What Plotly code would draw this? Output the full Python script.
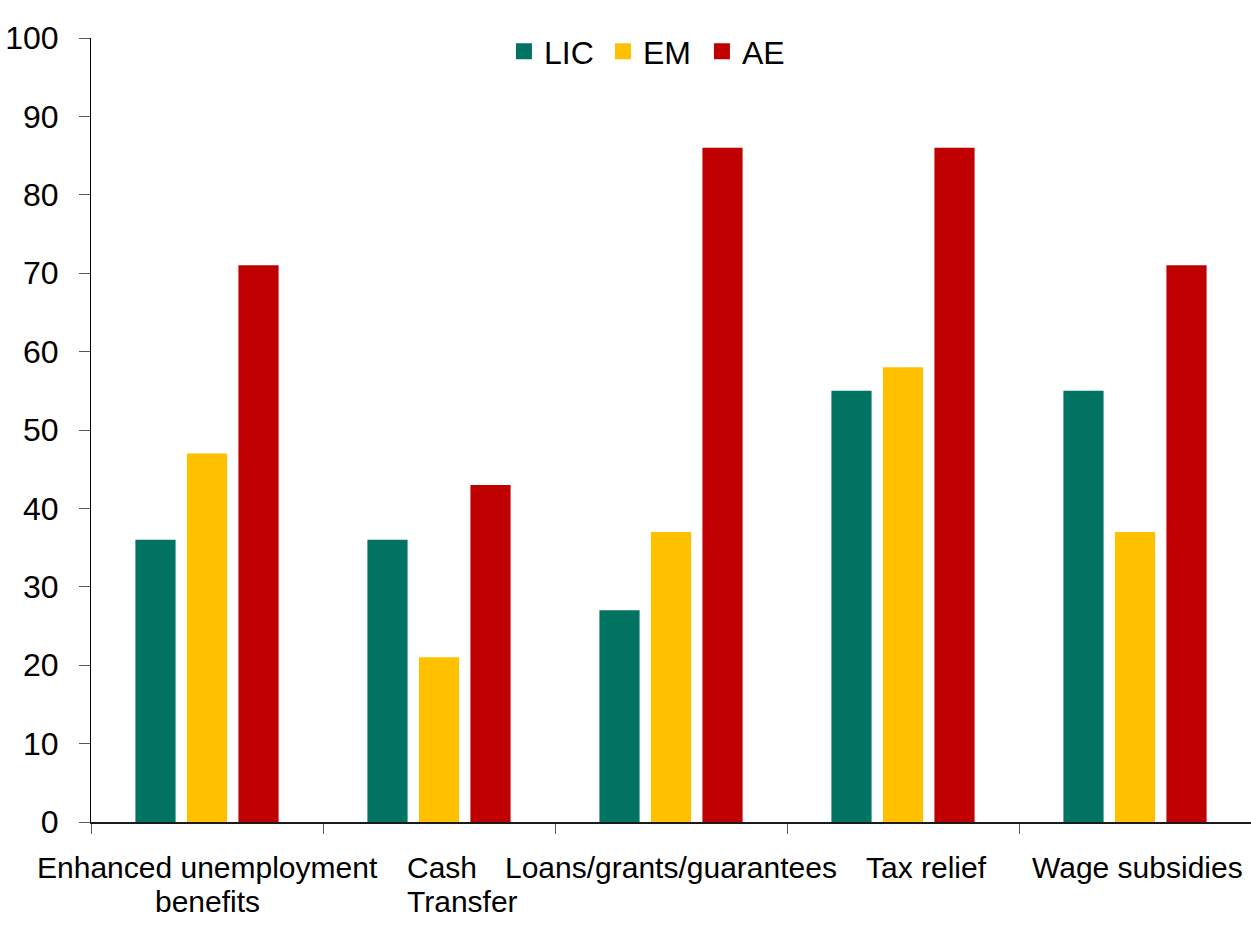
import plotly.graph_objects as go

# Share of countries using each labour-market support measure, by income group
categories = ["Enhanced unemployment benefits", "Cash Transfer",
              "Loans/grants/guarantees", "Tax relief", "Wage subsidies"]
label_lines = [["Enhanced unemployment", "benefits"], ["Cash", "Transfer"],
               ["Loans/grants/guarantees"], ["Tax relief"], ["Wage subsidies"]]
lic = [36, 36, 27, 55, 55]
em = [47, 21, 37, 58, 37]
ae = [71, 43, 86, 86, 71]
y_ticks = list(range(0, 101, 10))

series = [("LIC", lic, "#007363"), ("EM", em, "#FFC000"), ("AE", ae, "#C00000")]

FONT = "Liberation Sans, Arial, sans-serif"
TICK_FS = 32
CAT_FS = 30

fig = go.Figure()
for name, vals, col in series:
    fig.add_trace(go.Bar(x=categories, y=vals, name=name, marker_color=col,
                         marker_line_width=0, showlegend=False))
# legend entries with larger square swatches
for name, vals, col in series:
    fig.add_trace(go.Scatter(x=[None], y=[None], mode="markers", name=name,
                             marker=dict(symbol="square", size=16, color=col)))

# category labels below the axis
label_style = {
    "Cash Transfer": dict(xanchor="left", xshift=-34, align="left"),
    "Tax relief": dict(xanchor="center", xshift=23, align="center"),
    "Wage subsidies": dict(xanchor="center", xshift=2, align="center"),
}
line_shift = [-45, -79]
for cat, lines in zip(categories, label_lines):
    st = label_style.get(cat, dict(xanchor="center", xshift=0, align="center"))
    for i, txt in enumerate(lines):
        fig.add_annotation(x=cat, xref="x", y=0, yref="paper", text=txt,
                           showarrow=False, yanchor="middle", yshift=line_shift[i],
                           font=dict(family=FONT, size=CAT_FS, color="black"), **st)

fig.update_layout(
    width=1251, height=929,
    margin=dict(l=91, r=0, t=38, b=107),
    paper_bgcolor="white", plot_bgcolor="white",
    barmode="group", bargap=0.334, bargroupgap=0.22,
    font=dict(family=FONT, size=TICK_FS, color="black"),
    legend=dict(orientation="h", x=0.484, xanchor="center", y=0.983, yanchor="middle",
                font=dict(family=FONT, size=TICK_FS), bgcolor="rgba(0,0,0,0)",
                entrywidth=54, itemclick=False),
    xaxis=dict(range=[-0.5, 4.5], showticklabels=False, showline=True,
               linecolor="#1a1a1a", linewidth=1.5, ticks="outside", tickson="boundaries",
               ticklen=10, tickcolor="#595959", tickwidth=1, showgrid=False,
               zeroline=False, automargin=False),
    yaxis=dict(range=[0, 100], tickvals=y_ticks, showline=True, linecolor="black",
               linewidth=1, ticks="outside", ticklen=11, tickcolor="#595959",
               tickwidth=1, showgrid=False, zeroline=False, ticklabelstandoff=14,
               automargin=False, tickfont=dict(family=FONT, size=TICK_FS)),
)

fig.write_html("out.html")
